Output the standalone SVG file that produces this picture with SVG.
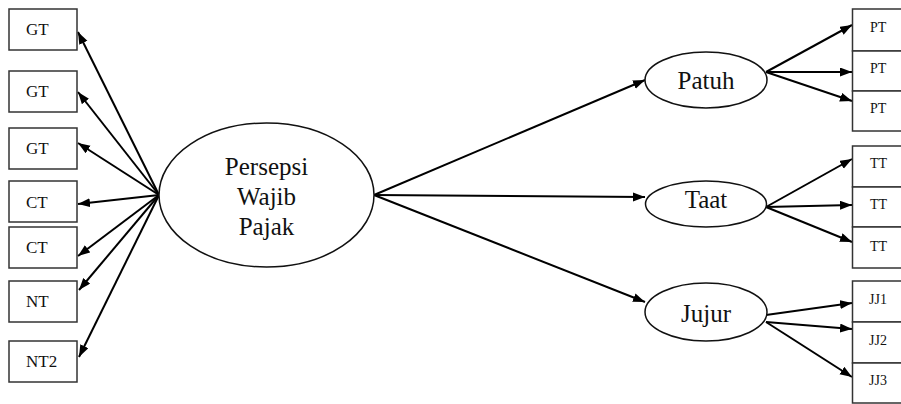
<svg xmlns="http://www.w3.org/2000/svg" width="901" height="404" viewBox="0 0 901 404">
<defs>
<marker id="ah" markerUnits="userSpaceOnUse" markerWidth="13" markerHeight="10" refX="12" refY="4.5" orient="auto">
<path d="M0,0 L12,4.5 L0,9 z" fill="#000"/>
</marker>
<style>
.box{fill:#fff;stroke:#333;stroke-width:1.5}
.ell{fill:#fff;stroke:#111;stroke-width:1.5}
.ln{stroke:#000;stroke-width:2;fill:none;marker-end:url(#ah)}
.tl{font-family:"Liberation Serif","Times New Roman",serif;font-size:17px;fill:#111}
.tr{font-family:"Liberation Serif","Times New Roman",serif;font-size:14px;fill:#111}
.te{font-family:"Liberation Serif","Times New Roman",serif;font-size:25px;fill:#111;text-anchor:middle}
</style>
</defs>
<rect width="901" height="404" fill="#fff"/>
<g id="connectors">
<line class="ln" x1="159" y1="195" x2="78" y2="32"/>
<line class="ln" x1="159" y1="195" x2="78" y2="92"/>
<line class="ln" x1="159" y1="195" x2="78" y2="143"/>
<line class="ln" x1="159" y1="195" x2="78" y2="204"/>
<line class="ln" x1="159" y1="195" x2="78" y2="256"/>
<line class="ln" x1="159" y1="195" x2="79" y2="290"/>
<line class="ln" x1="159" y1="195" x2="79" y2="357"/>
<line class="ln" x1="374" y1="195" x2="645" y2="80"/>
<line class="ln" x1="374" y1="195" x2="645" y2="197"/>
<line class="ln" x1="374" y1="195" x2="645" y2="302"/>
<line class="ln" x1="766" y1="72" x2="852" y2="25"/>
<line class="ln" x1="766" y1="72" x2="852" y2="72"/>
<line class="ln" x1="766" y1="72" x2="852" y2="101"/>
<line class="ln" x1="766" y1="207" x2="852" y2="159"/>
<line class="ln" x1="766" y1="207" x2="852" y2="205"/>
<line class="ln" x1="766" y1="207" x2="852" y2="242"/>
<line class="ln" x1="766" y1="315" x2="852" y2="303"/>
<line class="ln" x1="766" y1="322" x2="852" y2="329"/>
<line class="ln" x1="766" y1="322" x2="852" y2="377"/>
</g>
<g id="gt1"><rect class="box" x="9" y="9" width="68" height="41"/><text class="tl" x="26" y="35">GT</text></g>
<g id="gt2"><rect class="box" x="9" y="71" width="68" height="41"/><text class="tl" x="26" y="97">GT</text></g>
<g id="gt3"><rect class="box" x="9" y="128" width="68" height="41"/><text class="tl" x="26" y="154">GT</text></g>
<g id="ct1"><rect class="box" x="9" y="181" width="68" height="41"/><text class="tl" x="26" y="208">CT</text></g>
<g id="ct2"><rect class="box" x="9" y="227" width="68" height="41"/><text class="tl" x="26" y="253">CT</text></g>
<g id="nt"><rect class="box" x="9" y="281" width="68" height="41"/><text class="tl" x="26" y="307">NT</text></g>
<g id="nt2"><rect class="box" x="9" y="341" width="68" height="41"/><text class="tl" x="26" y="367">NT2</text></g>
<g id="persepsi"><ellipse class="ell" cx="266.5" cy="195" rx="107.5" ry="72"/>
<text class="te" x="266.5" y="175">Persepsi</text>
<text class="te" x="266.5" y="205">Wajib</text>
<text class="te" x="266.5" y="235">Pajak</text></g>
<g id="patuh"><ellipse class="ell" cx="706" cy="80" rx="61" ry="28"/><text class="te" x="706" y="89">Patuh</text></g>
<g id="taat"><ellipse class="ell" cx="706" cy="204" rx="60.5" ry="23"/><text class="te" x="706" y="208">Taat</text></g>
<g id="jujur"><ellipse class="ell" cx="706" cy="312" rx="61" ry="29"/><text class="te" x="706" y="322">Jujur</text></g>
<g id="pt1"><rect class="box" x="852.5" y="9" width="60" height="42"/><text class="tr" x="870" y="32">PT</text></g>
<g id="pt2"><rect class="box" x="852.5" y="51" width="60" height="40"/><text class="tr" x="870" y="73">PT</text></g>
<g id="pt3"><rect class="box" x="852.5" y="91" width="60" height="40"/><text class="tr" x="870" y="113">PT</text></g>
<g id="tt1"><rect class="box" x="852.5" y="146" width="60" height="41"/><text class="tr" x="870" y="168">TT</text></g>
<g id="tt2"><rect class="box" x="852.5" y="187" width="60" height="40"/><text class="tr" x="870" y="209">TT</text></g>
<g id="tt3"><rect class="box" x="852.5" y="227" width="60" height="41"/><text class="tr" x="870" y="251">TT</text></g>
<g id="jj1"><rect class="box" x="852.5" y="281" width="60" height="41"/><text class="tr" x="869" y="304">JJ1</text></g>
<g id="jj2"><rect class="box" x="852.5" y="322" width="60" height="41"/><text class="tr" x="869" y="345">JJ2</text></g>
<g id="jj3"><rect class="box" x="852.5" y="363" width="60" height="40"/><text class="tr" x="869" y="385">JJ3</text></g>
</svg>
